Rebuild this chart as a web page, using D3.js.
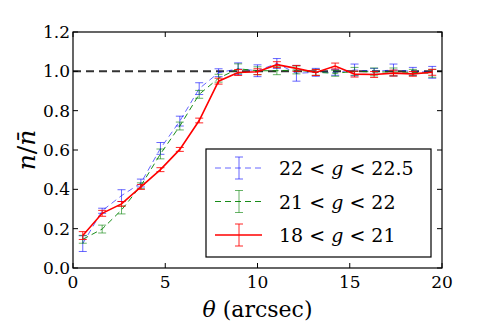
<!DOCTYPE html>
<html>
<head>
<meta charset="utf-8">
<script src="https://cdn.jsdelivr.net/npm/d3@7"></script>
<style>
  body { margin: 0; background: #fff; }
  svg { display: block; }
</style>
</head>
<body>
<svg id="chart" width="491" height="327"></svg>
<script>
// bin centres (arcsec)
const theta = [0.53, 1.58, 2.63, 3.68, 4.74, 5.79, 6.84, 7.89, 8.95, 10.0, 11.05, 12.11, 13.16, 14.21, 15.26, 16.32, 17.37, 18.42, 19.47]

// 22 < g < 22.5
const faintVals = [0.124, 0.291, 0.368, 0.432, 0.608, 0.747, 0.912, 0.993, 1.013, 1.003, 1.04, 0.99, 0.995, 0.995, 1.007, 1.0, 1.007, 1.0, 0.995]
const faintErr = [0.04, 0.013, 0.03, 0.02, 0.03, 0.025, 0.03, 0.02, 0.03, 0.03, 0.025, 0.04, 0.02, 0.015, 0.03, 0.015, 0.03, 0.02, 0.03]

// 21 < g < 22
const midVals = [0.146, 0.198, 0.295, 0.418, 0.58, 0.722, 0.883, 0.965, 1.013, 1.003, 1.003, 1.007, 0.995, 0.99, 1.0, 0.997, 0.997, 0.995, 0.99]
const midErr = [0.02, 0.02, 0.02, 0.015, 0.025, 0.02, 0.02, 0.02, 0.025, 0.02, 0.02, 0.02, 0.015, 0.015, 0.02, 0.02, 0.02, 0.015, 0.02]

// 18 < g < 21
const brightVals = [0.165, 0.278, 0.326, 0.412, 0.5, 0.603, 0.75, 0.95, 0.994, 0.998, 1.034, 1.015, 0.994, 1.027, 0.986, 0.984, 0.991, 0.987, 0.995]
const brightErr = [0.02, 0.015, 0.012, 0.012, 0.01, 0.01, 0.012, 0.015, 0.015, 0.015, 0.015, 0.015, 0.015, 0.015, 0.015, 0.015, 0.015, 0.012, 0.015]

const xTicks = [0, 5, 10, 15, 20]
const yTicks = [0.0, 0.2, 0.4, 0.6, 0.8, 1.0, 1.2]

const legendLabels = [
  ["22", "22.5"],
  ["21", "22"],
  ["18", "21"],
]

const series = [
  { vals: faintVals, err: faintErr, line: "#0000ff", bar: "#0000ff", dash: "6,4", width: 1, barOpacity: 0.6, lineOpacity: 0.6 },
  { vals: midVals, err: midErr, line: "#008000", bar: "#008000", dash: "6,4", width: 1, barOpacity: 0.6, lineOpacity: 0.9 },
  { vals: brightVals, err: brightErr, line: "#ff0000", bar: "#ff0000", dash: null, width: 1.6, barOpacity: 0.85, lineOpacity: 1 },
]

const serif = "'DejaVu Serif', 'Liberation Serif', serif"

const svg = d3.select("#chart").attr("font-family", serif).style("font-family", serif)
const margin = { top: 32, right: 49, bottom: 59, left: 73 }
const w = 491 - margin.left - margin.right
const h = 327 - margin.top - margin.bottom

const x = d3.scaleLinear().domain([0, 20]).range([0, w])
const y = d3.scaleLinear().domain([0, 1.2]).range([h, 0])

const g = svg.append("g").attr("transform", `translate(${margin.left},${margin.top})`)

// reference line at 1
g.append("line")
  .attr("x1", x(0))
  .attr("x2", x(20))
  .attr("y1", y(1))
  .attr("y2", y(1))
  .attr("stroke", "#333")
  .attr("stroke-width", 2)
  .attr("stroke-dasharray", "8,5")

const lineGen = d3
  .line()
  .x((d) => x(d[0]))
  .y((d) => y(d[1]))

series.forEach((s) => {
  const pts = theta.map((t, i) => [t, s.vals[i], s.err[i]])
  const sg = g.append("g")

  sg.append("path")
    .datum(pts)
    .attr("d", lineGen)
    .attr("fill", "none")
    .attr("stroke", s.line)
    .attr("stroke-width", s.width)
    .attr("stroke-opacity", s.lineOpacity)
    .attr("stroke-dasharray", s.dash)

  const bars = sg
    .selectAll("g.bar")
    .data(pts)
    .join("g")
    .classed("bar", true)
    .attr("stroke", s.bar)
    .attr("stroke-opacity", s.barOpacity)
    .attr("stroke-width", 1)

  bars
    .append("line")
    .attr("x1", (d) => x(d[0]))
    .attr("x2", (d) => x(d[0]))
    .attr("y1", (d) => y(d[1] - d[2]))
    .attr("y2", (d) => y(d[1] + d[2]))
  bars
    .append("line")
    .attr("x1", (d) => x(d[0]) - 4)
    .attr("x2", (d) => x(d[0]) + 4)
    .attr("y1", (d) => y(d[1] - d[2]))
    .attr("y2", (d) => y(d[1] - d[2]))
  bars
    .append("line")
    .attr("x1", (d) => x(d[0]) - 4)
    .attr("x2", (d) => x(d[0]) + 4)
    .attr("y1", (d) => y(d[1] + d[2]))
    .attr("y2", (d) => y(d[1] + d[2]))
})

// frame and inward ticks on all four sides
const tickLen = 5
const ticks = g.append("g").attr("stroke", "#000").attr("stroke-width", 1)
xTicks.forEach((t) => {
  ticks.append("line").attr("x1", x(t)).attr("x2", x(t)).attr("y1", h).attr("y2", h - tickLen)
  ticks.append("line").attr("x1", x(t)).attr("x2", x(t)).attr("y1", 0).attr("y2", tickLen)
})
yTicks.forEach((t) => {
  ticks.append("line").attr("x1", 0).attr("x2", tickLen).attr("y1", y(t)).attr("y2", y(t))
  ticks.append("line").attr("x1", w).attr("x2", w - tickLen).attr("y1", y(t)).attr("y2", y(t))
})

g.append("rect")
  .attr("x", 0)
  .attr("y", 0)
  .attr("width", w)
  .attr("height", h)
  .attr("fill", "none")
  .attr("stroke", "#000")
  .attr("stroke-width", 1.2)

g.selectAll("text.xtick")
  .data(xTicks)
  .join("text")
  .classed("xtick", true)
  .attr("x", (d) => x(d))
  .attr("y", h + 20)
  .attr("text-anchor", "middle")
  .attr("font-size", 17)
  .text((d) => d)

g.selectAll("text.ytick")
  .data(yTicks)
  .join("text")
  .classed("ytick", true)
  .attr("x", -3)
  .attr("y", (d) => y(d) + 6)
  .attr("text-anchor", "end")
  .attr("font-size", 17)
  .text((d) => d.toFixed(1))

// axis labels
const xl = g
  .append("text")
  .attr("x", w / 2)
  .attr("y", h + 49)
  .attr("text-anchor", "middle")
  .attr("font-size", 22)
xl.append("tspan").attr("font-style", "italic").text("θ")
xl.append("tspan").text(" (arcsec)")

const yl = svg
  .append("text")
  .attr("transform", `translate(35,${margin.top + h / 2}) rotate(-90)`)
  .attr("text-anchor", "middle")
  .attr("font-size", 25)
yl.append("tspan").attr("font-style", "italic").text("n")
yl.append("tspan").text("/")
yl.append("tspan").attr("font-style", "italic").text("n\u0304")

// legend
const lg = svg.append("g").attr("transform", "translate(206,149)")
lg.append("rect")
  .attr("width", 225)
  .attr("height", 108)
  .attr("fill", "#fff")
  .attr("stroke", "#000")
  .attr("stroke-width", 1.2)

series.forEach((s, i) => {
  const cy = 19 + i * 33.5
  const row = lg.append("g").attr("transform", `translate(0,${cy})`)
  row.append("line")
    .attr("x1", 9)
    .attr("x2", 56)
    .attr("y1", 0)
    .attr("y2", 0)
    .attr("stroke", s.line)
    .attr("stroke-width", s.width)
    .attr("stroke-opacity", s.lineOpacity)
    .attr("stroke-dasharray", s.dash)
  const eb = row.append("g").attr("stroke", s.bar).attr("stroke-opacity", s.barOpacity)
  eb.append("line").attr("x1", 33).attr("x2", 33).attr("y1", -11).attr("y2", 11)
  eb.append("line").attr("x1", 29).attr("x2", 37).attr("y1", -11).attr("y2", -11)
  eb.append("line").attr("x1", 29).attr("x2", 37).attr("y1", 11).attr("y2", 11)

  const t = row.append("text").attr("x", 73).attr("y", 7).attr("font-size", 19)
  t.append("tspan").text(legendLabels[i][0] + " < ")
  t.append("tspan").attr("font-style", "italic").text("g")
  t.append("tspan").text(" < " + legendLabels[i][1])
})
</script>
</body>
</html>
